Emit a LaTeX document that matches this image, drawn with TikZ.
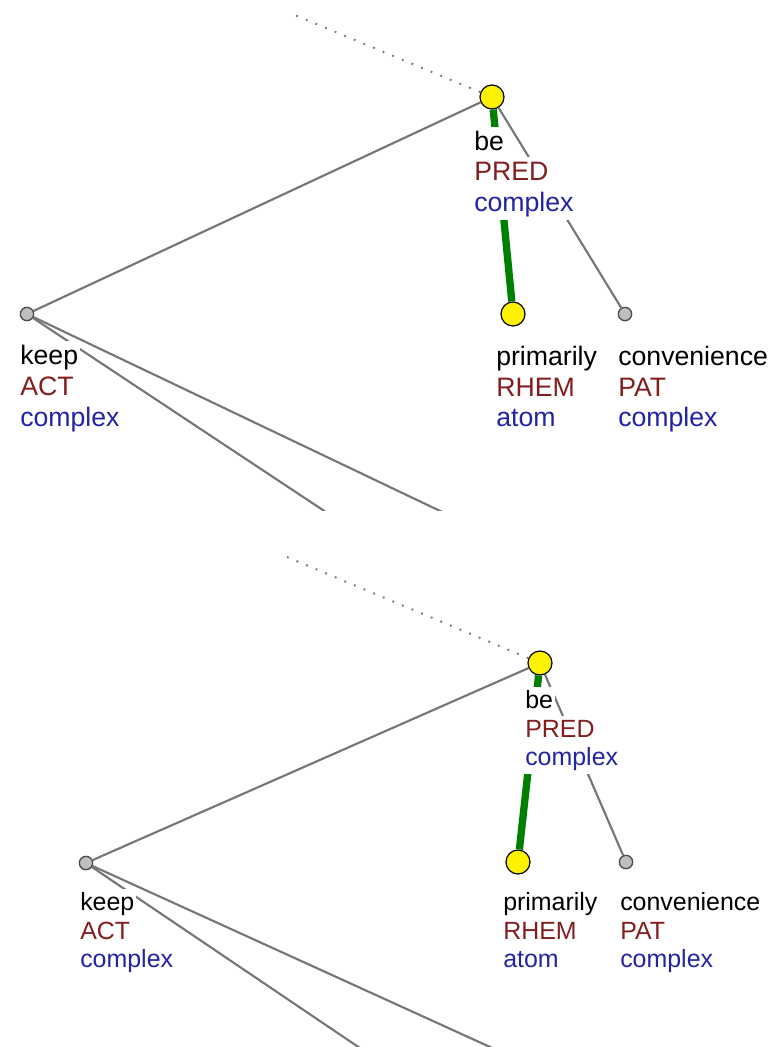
\documentclass[tikz,border=0pt]{standalone}
\usepackage{fontspec}
\setmainfont{Liberation Sans}
\definecolor{funccol}{RGB}{130,30,30}
\definecolor{typecol}{RGB}{35,35,165}
\definecolor{edgecol}{RGB}{118,118,118}
\definecolor{effcol}{RGB}{0,128,0}
\tikzset{
  hinode/.style={circle,draw=black,fill=yellow,line width=0.9pt,minimum size=18pt,inner sep=0pt},
  lonode/.style={circle,draw=black!70,fill=black!25,line width=1pt,minimum size=10pt,inner sep=0pt},
  treeline/.style={draw=edgecol,line width=1.6pt},
  effline/.style={draw=effcol,line width=5.5pt},
  parline/.style={draw=edgecol,line width=1.4pt,dash pattern=on 1.4pt off 6.4pt},
  lbl/.style={fill=white,anchor=base west,inner xsep=1.5pt,inner ysep=2pt},
  lemma/.style={lbl,text=black},
  func/.style={lbl,text=funccol},
  ntype/.style={lbl,text=typecol}
}
\begin{document}
\begin{tikzpicture}[x=0.75pt,y=-0.75pt]
  \useasboundingbox (0,0) rectangle (784,1047);
  % upper view
  \begin{scope}[font=\fontsize{20}{24}\selectfont,
      lbl/.append style={text height=15pt,text depth=5pt}]
    \clip (0,12) rectangle (784,510);
    \node[hinode] (be-a) at (492,97) {};
    \node[lonode] (keep-a) at (27,314) {};
    \node[hinode] (prim-a) at (513,314) {};
    \node[lonode] (conv-a) at (625,314) {};
    \coordinate (par-a) at (290,13);
    \coordinate (kid1-a) at (353,530);
    \coordinate (kid2-a) at (480,530);
    \draw[parline] (be-a) -- (par-a);
    \draw[treeline] (keep-a) -- (be-a);
    \draw[effline] (be-a) -- (prim-a);
    \draw[treeline] (be-a) -- (conv-a);
    \draw[treeline] (keep-a) -- (kid1-a);
    \draw[treeline] (keep-a) -- (kid2-a);
    \node[lemma] (be-a-t) at (472,150) {be};
    \node[func] (be-a-f) at (472,180) {PRED};
    \node[ntype] (be-a-n) at (472,211) {complex};
    \node[lemma] (keep-a-t) at (18,364) {keep};
    \node[func] (keep-a-f) at (18,395) {ACT};
    \node[ntype] (keep-a-n) at (18,426) {complex};
    \node[lemma] (prim-a-t) at (494,365) {primarily};
    \node[func] (prim-a-f) at (494,396) {RHEM};
    \node[ntype] (prim-a-n) at (494,426) {atom};
    \node[lemma] (conv-a-t) at (616,365) {convenience};
    \node[func] (conv-a-f) at (616,396) {PAT};
    \node[ntype] (conv-a-n) at (616,426) {complex};
  \end{scope}
  % lower view
  \begin{scope}[font=\fontsize{18.7}{22}\selectfont,
      lbl/.append style={text height=14pt,text depth=4.7pt}]
    \clip (0,556) rectangle (784,1047);
    \node[hinode] (be-b) at (540,663) {};
    \node[lonode] (keep-b) at (86,863) {};
    \node[hinode] (prim-b) at (518,862) {};
    \node[lonode] (conv-b) at (626,862) {};
    \coordinate (par-b) at (287,557);
    \coordinate (kid1-b) at (388,1067);
    \coordinate (kid2-b) at (534,1067);
    \draw[parline] (be-b) -- (par-b);
    \draw[treeline] (keep-b) -- (be-b);
    \draw[effline] (be-b) -- (prim-b);
    \draw[treeline] (be-b) -- (conv-b);
    \draw[treeline] (keep-b) -- (kid1-b);
    \draw[treeline] (keep-b) -- (kid2-b);
    \node[lemma] (be-b-t) at (523,708) {be};
    \node[func] (be-b-f) at (523,737) {PRED};
    \node[ntype] (be-b-n) at (523,765) {complex};
    \node[lemma] (keep-b-t) at (78,910) {keep};
    \node[func] (keep-b-f) at (78,939) {ACT};
    \node[ntype] (keep-b-n) at (78,967) {complex};
    \node[lemma] (prim-b-t) at (501,910) {primarily};
    \node[func] (prim-b-f) at (501,939) {RHEM};
    \node[ntype] (prim-b-n) at (501,967) {atom};
    \node[lemma] (conv-b-t) at (618,910) {convenience};
    \node[func] (conv-b-f) at (618,939) {PAT};
    \node[ntype] (conv-b-n) at (618,967) {complex};
  \end{scope}
\end{tikzpicture}
\end{document}
